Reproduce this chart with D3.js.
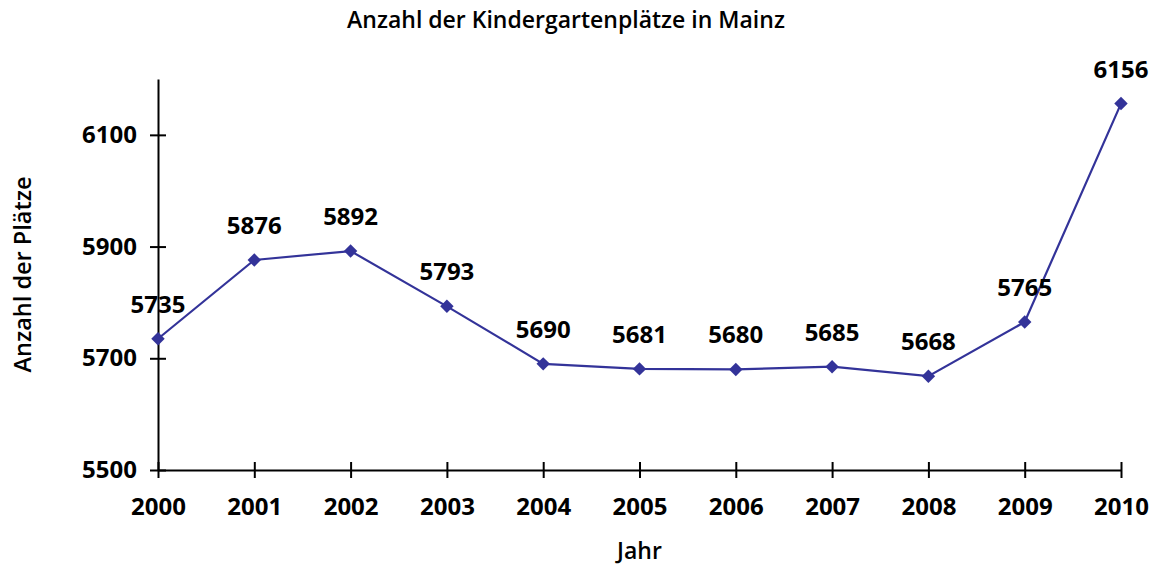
<!DOCTYPE html>
<html>
<head>
<meta charset="utf-8">
<script src="https://cdn.jsdelivr.net/npm/d3@7"></script>
<style>
  body { margin: 0; background: #fff; }
  svg { display: block; font-family: "Open Sans", sans-serif; }
</style>
</head>
<body>
<div id="chart"></div>
<script>
// DATA
const years = ['2000', '2001', '2002', '2003', '2004', '2005', '2006', '2007', '2008', '2009', '2010'];
const places = [5735, 5876, 5892, 5793, 5690, 5681, 5680, 5685, 5668, 5765, 6156];
const yTicks = [5500, 5700, 5900, 6100];
const yDomain = [5500, 6200];

// SETTINGS
const width = 1158, height = 567;
const margin = { top: 79, right: 37, bottom: 97, left: 158 };
const graphWidth = width - margin.left - margin.right;
const graphHeight = height - margin.top - margin.bottom;
const lineColor = '#333399';
const tickLen = 8;
const labelSize = 24;

const data = years.map((y, i) => ({ year: y, value: places[i] }));

// SCALES
const x = d3.scalePoint().domain(years).range([0, graphWidth]);
const y = d3.scaleLinear().domain(yDomain).range([graphHeight, 0]);

const svg = d3.select('#chart')
  .append('svg')
  .attr('width', width)
  .attr('height', height);

// title
svg.append('text')
  .attr('x', 566)
  .attr('y', 28)
  .attr('text-anchor', 'middle')
  .attr('font-size', 23)
  .attr('font-weight', 600)
  .text('Anzahl der Kindergartenplätze in Mainz');

const graph = svg.append('g')
  .attr('transform', `translate(${margin.left}, ${margin.top})`);

// AXES
const xAxis = d3.axisBottom(x).tickSizeInner(tickLen).tickSizeOuter(0).tickPadding(20);
const yAxis = d3.axisLeft(y)
  .tickValues(yTicks)
  .tickFormat(d3.format('d'))
  .tickSizeInner(tickLen).tickSizeOuter(0).tickPadding(13);

const xAxisGroup = graph.append('g')
  .attr('transform', `translate(0, ${graphHeight})`)
  .call(xAxis);
const yAxisGroup = graph.append('g').call(yAxis);

[xAxisGroup, yAxisGroup].forEach(g => {
  g.selectAll('path.domain').attr('stroke', '#000').attr('stroke-width', 2);
  g.selectAll('.tick line').attr('stroke', '#000').attr('stroke-width', 2);
  g.selectAll('.tick text')
    .attr('fill', '#000')
    .attr('font-family', '"Open Sans", sans-serif')
    .attr('font-size', labelSize)
    .attr('font-weight', 700);
});
// ticks cross the axis line
xAxisGroup.selectAll('.tick line').attr('y1', -tickLen);
yAxisGroup.selectAll('.tick line').attr('x1', tickLen);

// axis titles
svg.append('text')
  .attr('x', margin.left + graphWidth / 2)
  .attr('y', 559)
  .attr('text-anchor', 'middle')
  .attr('font-size', 23)
  .attr('font-weight', 600)
  .text('Jahr');

svg.append('text')
  .attr('transform', `translate(31, ${margin.top + graphHeight / 2}) rotate(-90)`)
  .attr('text-anchor', 'middle')
  .attr('font-size', 23.5)
  .attr('font-weight', 600)
  .text('Anzahl der Plätze');

// LINE
const line = d3.line()
  .x(d => x(d.year))
  .y(d => y(d.value));

graph.append('path')
  .datum(data)
  .attr('fill', 'none')
  .attr('stroke', lineColor)
  .attr('stroke-width', 2.2)
  .attr('d', line);

// diamond markers
graph.selectAll('path.marker')
  .data(data)
  .enter()
  .append('path')
  .attr('class', 'marker')
  .attr('d', d3.symbol(d3.symbolDiamond2, 115)())
  .attr('transform', d => `translate(${x(d.year)}, ${y(d.value)})`)
  .attr('fill', lineColor);

// value labels
graph.selectAll('text.value')
  .data(data)
  .enter()
  .append('text')
  .attr('class', 'value')
  .attr('x', d => x(d.year))
  .attr('y', d => y(d.value) - 26)
  .attr('text-anchor', 'middle')
  .attr('font-size', labelSize)
  .attr('font-weight', 700)
  .text(d => d.value);
</script>
</body>
</html>
